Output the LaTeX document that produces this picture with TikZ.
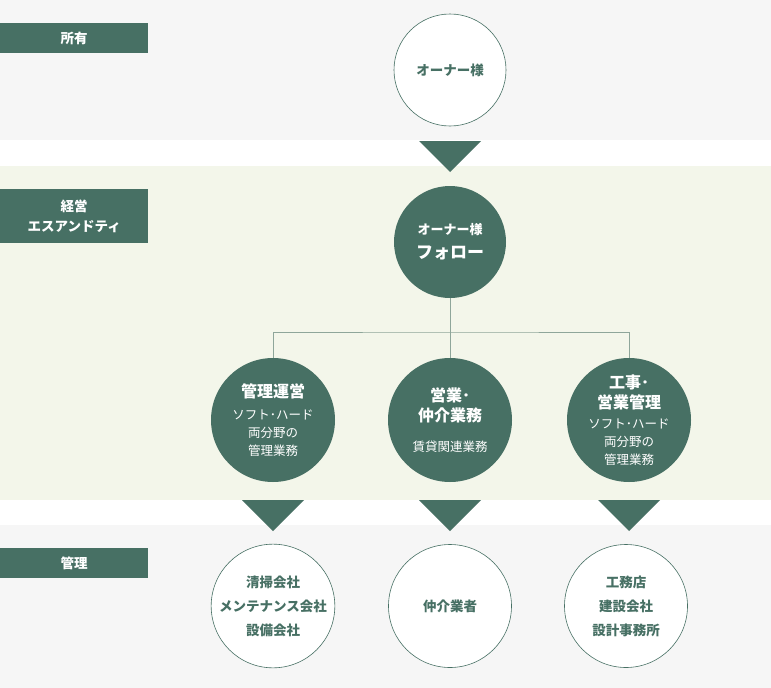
\documentclass[tikz,border=0pt]{standalone}
\usepackage{fontspec}
\setmainfont{Noto Sans CJK JP}
\usepackage{tikz}
\usetikzlibrary{positioning}
\definecolor{STGreen}{HTML}{477064}
\definecolor{STLine}{HTML}{8EA69A}
\definecolor{STPale}{HTML}{F3F6EA}
\definecolor{STGray}{HTML}{F6F6F6}
\newcommand{\headfont}{\fontsize{16}{20}\selectfont\bfseries}
\newcommand{\subfont}{\fontsize{12.5}{18}\selectfont}

\begin{document}
\begin{tikzpicture}[
    x=1pt, y=-1pt,
    tag/.style={
      fill=STGreen,
      text=white,
      anchor=west,
      minimum width=148pt,
      minimum height=#1,
      inner sep=0pt,
      align=center,
      font=\fontsize{13.5}{20}\selectfont\bfseries
    },
    owner/.style={
      circle,
      draw=STGreen,
      line width=0.6pt,
      fill=white,
      minimum size=#1,
      inner sep=0pt,
      align=center,
      text=STGreen,
      font=\fontsize{13.5}{24}\selectfont\bfseries
    },
    role/.style={
      circle,
      fill=STGreen,
      minimum size=#1,
      inner sep=0pt,
      align=center,
      text=white,
      font=\subfont
    },
    wedge/.style={fill=STGreen},
    link/.style={draw=STLine, line width=1pt}
  ]

  % bands
  \fill[STGray] (0,0)   rectangle (771,140);
  \fill[white]  (0,140) rectangle (771,166);
  \fill[STPale] (0,166) rectangle (771,500);
  \fill[white]  (0,500) rectangle (771,525);
  \fill[STGray] (0,525) rectangle (771,688);

  \node[tag=30pt] (own)  at (0,38)  {所有};
  \node[tag=54pt] (run)  at (0,216) {経営\\エスアンドティ};
  \node[tag=30pt] (mgt)  at (0,563) {管理};

  \node[owner=112pt] (owner)  at (450,70)  {オーナー様};
  \node[role=112pt]  (follow) at (450,242)
    {{\fontsize{13}{25}\selectfont\bfseries オーナー様}\\[6pt]{\fontsize{17}{25}\selectfont\bfseries フォロー}};

  \node[role=124pt] (manage) at (273,420)
    {{\headfont 管理運営}\\[4pt]ソフト･ハード\\両分野の\\管理業務};
  \node[role=124pt] (sales)  at (450,420)
    {{\headfont 営業･}\\[2pt]{\headfont 仲介業務}\\[12pt]賃貸関連業務};
  \node[role=124pt] (works)  at (629,420)
    {{\headfont 工事･}\\[2pt]{\headfont 営業管理}\\[2pt]ソフト･ハード\\両分野の\\管理業務};

  \node[owner=123pt] (cleaning) at (273,606) {清掃会社\\メンテナンス会社\\設備会社};
  \node[owner=123pt] (broker)   at (450,606) {仲介業者};
  \node[owner=123pt] (builder)  at (626,606) {工務店\\建設会社\\設計事務所};

  \coordinate (split) at (450,332);
  \draw[link] (follow.south) -- (sales.north);
  \draw[link] (manage.north) |- (split) -| (works.north);

  % wedges between bands
  \fill[wedge] (419,141) -- (481,141) -- (450,172) -- cycle;
  \fill[wedge] (242,500) -- (304,500) -- (273,531) -- cycle;
  \fill[wedge] (419,500) -- (481,500) -- (450,531) -- cycle;
  \fill[wedge] (598,500) -- (660,500) -- (629,531) -- cycle;

\end{tikzpicture}
\end{document}
